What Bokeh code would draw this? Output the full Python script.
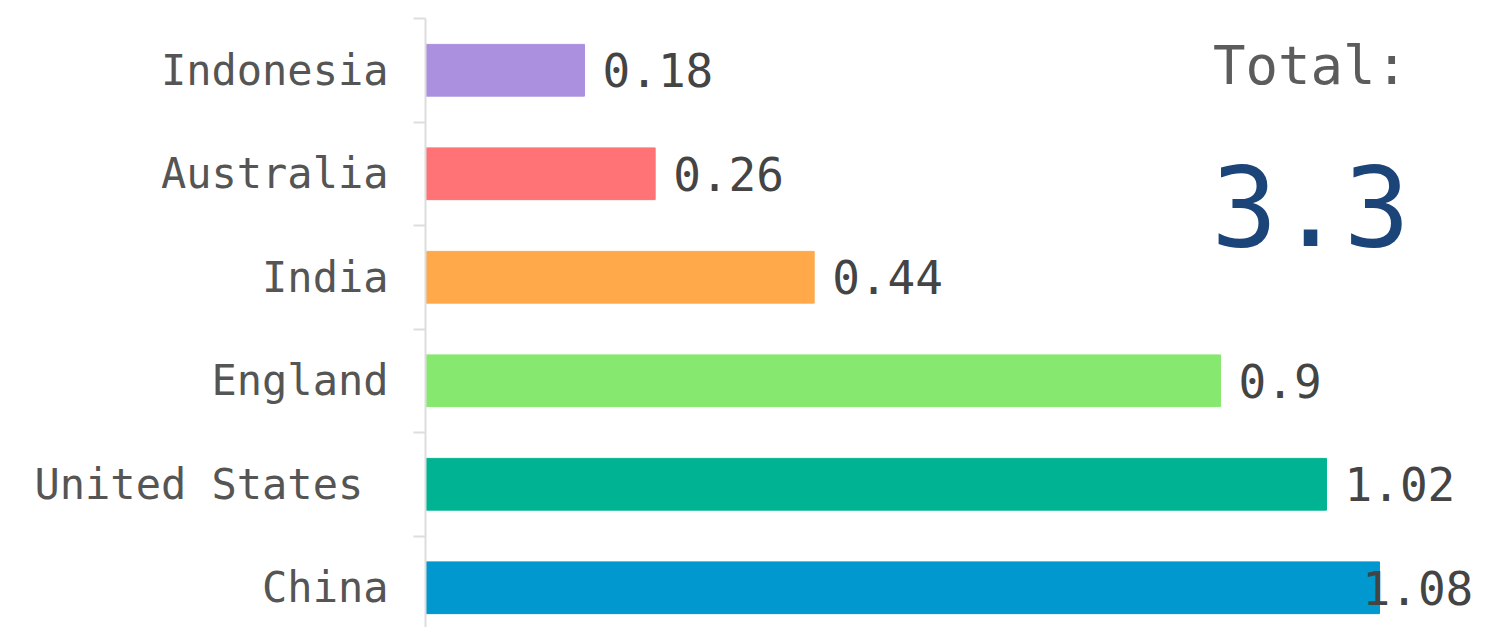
import numpy as np
from bokeh.plotting import figure
from bokeh.models import ColumnDataSource, Range1d, FixedTicker
from bokeh.core.properties import value
from bokeh.embed import file_html
from bokeh.resources import INLINE

countries = ["China", "United States ", "England", "India", "Australia", "Indonesia"]
values = [1.08, 1.02, 0.90, 0.44, 0.26, 0.18]
value_labels = ["1.08", "1.02", "0.9", "0.44", "0.26", "0.18"]
colors = ["#0098CE", "#00B493", "#87E870", "#FFA94A", "#FF7276", "#AB90E0"]
total_label = "Total:"
total_value = "3.3"

n = len(countries)
centers = [i + 0.5 for i in range(n)]
bounds = [float(i) for i in range(n + 1)]
offsets = [-17 if v >= 1.05 else 18 for v in values]

src = ColumnDataSource(dict(y=centers, v=values, lab=value_labels, c=colors, off=offsets))

p = figure(width=1491, height=627, output_backend="svg", toolbar_location=None,
           x_range=Range1d(0, 1.2068), y_range=Range1d(0.116, 6.0),
           min_border_left=425, min_border_right=0, min_border_top=18, min_border_bottom=0)
p.outline_line_color = None
p.grid.visible = False
p.xaxis.visible = False

p.hbar(y="y", right="v", left=0, height=0.5, color="c", source=src)
p.text(x="v", y="y", text="lab", x_offset="off", source=src,
       text_font=value("DejaVu Sans Mono"), text_font_size="46px",
       text_color="#444444", text_align="left", text_baseline="middle")

ya = p.yaxis[0]
ya.ticker = FixedTicker(ticks=centers, minor_ticks=bounds)
ya.major_label_overrides = {c: name for c, name in zip(centers, countries)}
ya.major_tick_line_color = None
ya.major_tick_out = 0
ya.major_tick_in = 0
ya.minor_tick_out = 12
ya.minor_tick_in = 0
ya.minor_tick_line_color = "#dddddd"
ya.minor_tick_line_width = 2
ya.axis_line_color = "#dddddd"
ya.axis_line_width = 2
ya.major_label_standoff = 25
ya.major_label_text_font = "DejaVu Sans Mono"
ya.major_label_text_font_size = "42px"
ya.major_label_text_color = "#555555"

p.text(x=[1.002], y=[5.546], text=[total_label], text_font=value("DejaVu Sans Mono"),
       text_font_size="54px", text_color="#5c5c5c", text_align="center", text_baseline="middle")
p.text(x=[1.002], y=[4.193], text=[total_value], text_font=value("DejaVu Sans Mono"),
       text_font_size="110px", text_color="#1B4478", text_align="center", text_baseline="middle")

open("out.html", "w").write(file_html(p, INLINE))
